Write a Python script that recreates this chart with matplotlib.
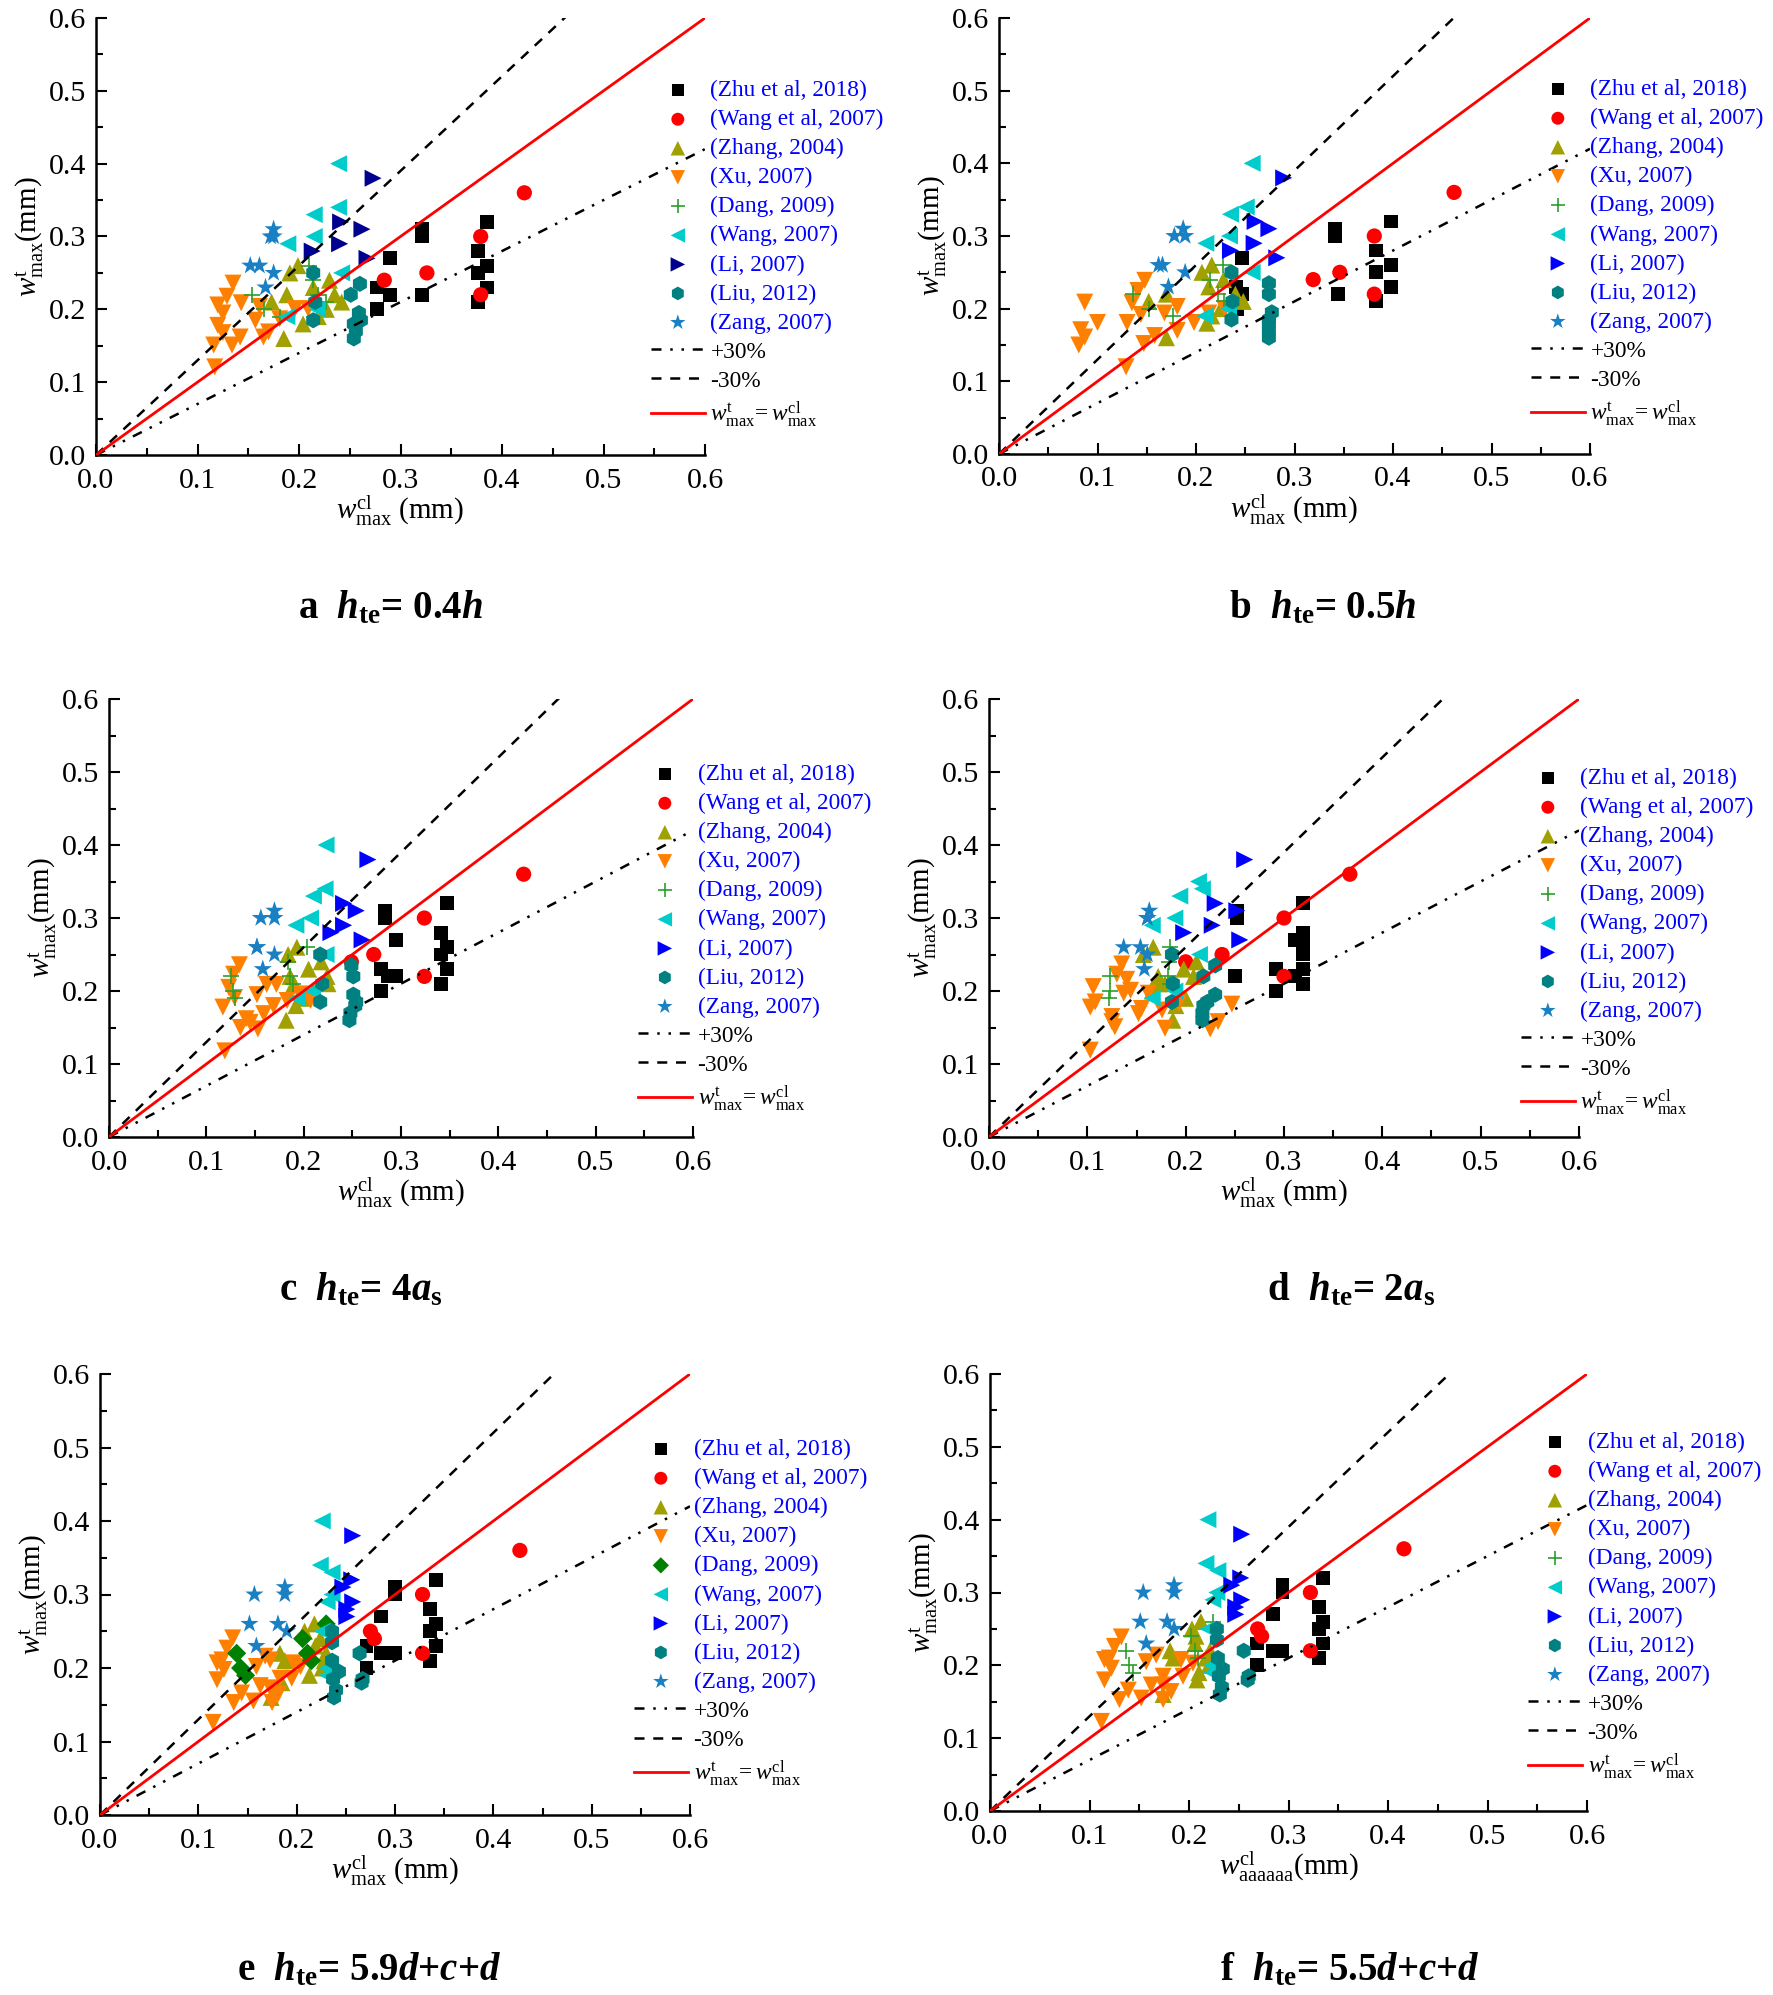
import matplotlib
matplotlib.use("Agg")
import matplotlib.pyplot as plt
from matplotlib.ticker import MultipleLocator, FormatStrFormatter

plt.rcParams["font.family"] = ["Liberation Serif", "DejaVu Serif"]
plt.rcParams["mathtext.fontset"] = "custom"
plt.rcParams["mathtext.rm"] = "Liberation Serif"
plt.rcParams["mathtext.it"] = "Liberation Serif:italic"
plt.rcParams["mathtext.bf"] = "Liberation Serif:bold"
plt.rcParams["mathtext.bfit"] = "Liberation Serif:italic:bold"

panels = ["a", "b", "c", "d", "e", "f"]

# ---- data (measured w_t on y, calculated w_cl on x) ----
zhu_y = [0.31, 0.30, 0.27, 0.23, 0.22, 0.22, 0.20, 0.32, 0.28, 0.26, 0.25, 0.23, 0.21]
zhu_x = {
    "a": [0.321, 0.321, 0.290, 0.277, 0.290, 0.321, 0.277, 0.385, 0.376, 0.385, 0.376, 0.385, 0.376],
    "b": [0.341, 0.341, 0.247, 0.241, 0.247, 0.344, 0.242, 0.398, 0.383, 0.398, 0.383, 0.398, 0.383],
    "c": [0.284, 0.284, 0.295, 0.279, 0.287, 0.295, 0.279, 0.347, 0.341, 0.347, 0.341, 0.347, 0.341],
    "d": [0.252, 0.252, 0.311, 0.292, 0.250, 0.311, 0.292, 0.319, 0.319, 0.319, 0.319, 0.319, 0.319],
    "e": [0.300, 0.300, 0.286, 0.271, 0.286, 0.300, 0.271, 0.342, 0.336, 0.342, 0.336, 0.342, 0.336],
    "f": [0.294, 0.294, 0.284, 0.268, 0.284, 0.294, 0.268, 0.335, 0.331, 0.335, 0.331, 0.335, 0.331],
}

wang_y = [0.24, 0.25, 0.30, 0.22, 0.36]
wang_x = {
    "a": [0.284, 0.326, 0.379, 0.379, 0.422],
    "b": [0.319, 0.346, 0.381, 0.381, 0.462],
    "c": [0.249, 0.272, 0.324, 0.324, 0.426],
    "d": [0.200, 0.237, 0.300, 0.300, 0.367],
    "e": [0.279, 0.275, 0.328, 0.328, 0.427],
    "f": [0.273, 0.269, 0.322, 0.322, 0.416],
}

zhang_y = [0.26, 0.25, 0.24, 0.23, 0.22, 0.22, 0.21, 0.21, 0.20, 0.19, 0.18, 0.16]
zhang_x = {
    "a": [0.199, 0.191, 0.230, 0.214, 0.188, 0.235, 0.173, 0.242, 0.227, 0.219, 0.204, 0.185],
    "b": [0.216, 0.206, 0.228, 0.213, 0.170, 0.240, 0.152, 0.248, 0.225, 0.216, 0.211, 0.170],
    "c": [0.193, 0.184, 0.218, 0.205, 0.186, 0.224, 0.190, 0.225, 0.210, 0.200, 0.192, 0.182],
    "d": [0.167, 0.157, 0.211, 0.198, 0.172, 0.208, 0.173, 0.179, 0.166, 0.200, 0.190, 0.187],
    "e": [0.218, 0.208, 0.224, 0.219, 0.183, 0.230, 0.188, 0.228, 0.226, 0.213, 0.185, 0.174],
    "f": [0.212, 0.203, 0.207, 0.206, 0.181, 0.221, 0.184, 0.217, 0.220, 0.210, 0.208, 0.174],
}

xu_x = {
    "a": [0.135, 0.129, 0.143, 0.120, 0.125, 0.161, 0.120, 0.125, 0.157, 0.142, 0.134, 0.116, 0.170, 0.196, 0.209, 0.117, 0.165, 0.181],
    "b": [0.087, 0.083, 0.100, 0.087, 0.081, 0.148, 0.141, 0.135, 0.130, 0.144, 0.147, 0.158, 0.168, 0.181, 0.181, 0.198, 0.213, 0.229, 0.129],
    "c": [0.134, 0.128, 0.123, 0.129, 0.117, 0.162, 0.172, 0.152, 0.169, 0.159, 0.141, 0.135, 0.153, 0.145, 0.183, 0.196, 0.119, 0.207],
    "d": [0.135, 0.130, 0.140, 0.106, 0.108, 0.103, 0.137, 0.144, 0.125, 0.125, 0.128, 0.152, 0.155, 0.176, 0.193, 0.179, 0.103, 0.247, 0.225, 0.233, 0.162],
    "e": [0.135, 0.129, 0.124, 0.119, 0.126, 0.119, 0.168, 0.173, 0.159, 0.197, 0.204, 0.183, 0.163, 0.173, 0.195, 0.144, 0.136, 0.156, 0.175, 0.181, 0.115],
    "f": [0.132, 0.125, 0.120, 0.115, 0.122, 0.115, 0.167, 0.157, 0.192, 0.204, 0.174, 0.162, 0.174, 0.194, 0.139, 0.130, 0.152, 0.174, 0.182, 0.112],
}
xu_y = {
    "a": [0.236, 0.218, 0.209, 0.206, 0.195, 0.204, 0.178, 0.168, 0.185, 0.162, 0.151, 0.151, 0.169, 0.201, 0.201, 0.121, 0.162, 0.187],
    "b": [0.209, 0.171, 0.181, 0.161, 0.150, 0.239, 0.225, 0.208, 0.181, 0.192, 0.152, 0.163, 0.194, 0.203, 0.170, 0.181, 0.194, 0.200, 0.120],
    "c": [0.236, 0.223, 0.205, 0.191, 0.178, 0.209, 0.209, 0.195, 0.180, 0.169, 0.162, 0.150, 0.148, 0.157, 0.187, 0.196, 0.118, 0.187],
    "d": [0.237, 0.223, 0.216, 0.206, 0.185, 0.178, 0.197, 0.201, 0.165, 0.158, 0.151, 0.169, 0.176, 0.174, 0.183, 0.149, 0.119, 0.182, 0.148, 0.158, 0.197],
    "e": [0.241, 0.227, 0.211, 0.207, 0.198, 0.184, 0.216, 0.211, 0.202, 0.207, 0.202, 0.186, 0.176, 0.173, 0.186, 0.166, 0.153, 0.155, 0.153, 0.164, 0.126],
    "f": [0.239, 0.226, 0.210, 0.208, 0.196, 0.180, 0.214, 0.205, 0.208, 0.203, 0.185, 0.173, 0.173, 0.185, 0.166, 0.153, 0.155, 0.153, 0.164, 0.123],
}

dang_y = [0.22, 0.20, 0.19, 0.26, 0.24, 0.22, 0.21]
dang_x = {
    "a": [0.154, 0.166, 0.181, 0.210, 0.214, 0.219, 0.227],
    "b": [0.136, 0.152, 0.177, 0.227, 0.214, 0.222, 0.228],
    "c": [0.125, 0.127, 0.129, 0.203, 0.184, 0.186, 0.189],
    "d": [0.123, 0.123, 0.122, 0.184, 0.183, 0.182, 0.184],
    "e": [0.139, 0.143, 0.148, 0.230, 0.206, 0.211, 0.215],
    "f": [0.137, 0.140, 0.144, 0.224, 0.202, 0.206, 0.209],
}

wang07_y = [0.40, 0.33, 0.34, 0.30, 0.29, 0.25, 0.20, 0.19]
wang07_y_d = [0.35, 0.34, 0.33, 0.30, 0.29, 0.25, 0.20, 0.19]
wang07_x = {
    "a": [0.239, 0.215, 0.239, 0.215, 0.189, 0.242, 0.218, 0.188],
    "b": [0.257, 0.235, 0.251, 0.234, 0.210, 0.257, 0.233, 0.209],
    "c": [0.223, 0.210, 0.222, 0.207, 0.192, 0.223, 0.209, 0.193],
    "d": [0.213, 0.217, 0.194, 0.189, 0.166, 0.214, 0.189, 0.166],
    "e": [0.226, 0.236, 0.224, 0.236, 0.231, 0.226, 0.231, 0.231],
    "f": [0.219, 0.229, 0.217, 0.228, 0.224, 0.219, 0.223, 0.223],
}

li_y = [0.38, 0.32, 0.31, 0.28, 0.29, 0.27]
li_x = {
    "a": [0.273, 0.241, 0.262, 0.213, 0.240, 0.267],
    "b": [0.289, 0.260, 0.274, 0.235, 0.259, 0.282],
    "c": [0.266, 0.241, 0.254, 0.228, 0.241, 0.260],
    "d": [0.260, 0.230, 0.252, 0.198, 0.227, 0.255],
    "e": [0.257, 0.256, 0.247, 0.251, 0.257, 0.251],
    "f": [0.253, 0.252, 0.243, 0.247, 0.253, 0.247],
}

liu_y = [0.25, 0.235, 0.22, 0.21, 0.185, 0.195, 0.185, 0.18, 0.17, 0.16]
liu_x = {
    "a": [0.214, 0.260, 0.251, 0.216, 0.214, 0.259, 0.261, 0.254, 0.256, 0.254],
    "b": [0.236, 0.274, 0.274, 0.237, 0.236, 0.277, 0.274, 0.274, 0.274, 0.274],
    "c": [0.217, 0.249, 0.251, 0.219, 0.217, 0.251, 0.254, 0.253, 0.248, 0.247],
    "d": [0.186, 0.230, 0.218, 0.187, 0.186, 0.230, 0.222, 0.218, 0.217, 0.217],
    "e": [0.236, 0.236, 0.264, 0.236, 0.237, 0.243, 0.267, 0.266, 0.240, 0.238],
    "f": [0.228, 0.228, 0.255, 0.229, 0.230, 0.234, 0.260, 0.259, 0.233, 0.231],
}

zang_y = [0.31, 0.30, 0.30, 0.26, 0.26, 0.25, 0.23]
zang_x = {
    "a": [0.175, 0.175, 0.172, 0.152, 0.161, 0.175, 0.167],
    "b": [0.187, 0.178, 0.189, 0.162, 0.166, 0.189, 0.172],
    "c": [0.170, 0.156, 0.170, 0.152, 0.152, 0.170, 0.158],
    "d": [0.163, 0.161, 0.161, 0.137, 0.154, 0.161, 0.158],
    "e": [0.188, 0.157, 0.188, 0.152, 0.181, 0.190, 0.159],
    "f": [0.185, 0.154, 0.185, 0.151, 0.178, 0.185, 0.157],
}

# reference lines: y = k * x
ref_x = [0.0, 0.6]
k_plus30 = 0.7
k_minus30 = 1.3

# captions: plain parts bold, symbols bold italic
captions = {
    "a": r"a  $\mathbfit{h}_{\mathbf{te}}$= 0.4$\mathbfit{h}$",
    "b": r"b  $\mathbfit{h}_{\mathbf{te}}$= 0.5$\mathbfit{h}$",
    "c": r"c  $\mathbfit{h}_{\mathbf{te}}$= 4$\mathbfit{a}_{\mathbf{s}}$",
    "d": r"d  $\mathbfit{h}_{\mathbf{te}}$= 2$\mathbfit{a}_{\mathbf{s}}$",
    "e": r"e  $\mathbfit{h}_{\mathbf{te}}$= 5.9$\mathbfit{d}$+$\mathbfit{c}$+$\mathbfit{d}$",
    "f": r"f  $\mathbfit{h}_{\mathbf{te}}$= 5.5$\mathbfit{d}$+$\mathbfit{c}$+$\mathbfit{d}$",
}

# ---- layout (pixels in the 1773x1995 figure) ----
W, H = 1773, 1995
axes_px = {  # left, right, top, bottom
    "a": (96, 705, 18, 455),
    "b": (999, 1590, 18, 454),
    "c": (109, 693, 699, 1137),
    "d": (989, 1579, 699, 1137),
    "e": (100, 690, 1374, 1815),
    "f": (990, 1587, 1374, 1811),
}
legend_px = {  # handle-left x, top y
    "a": (651, 80), "b": (1531, 79), "c": (638, 764),
    "d": (1521, 768), "e": (634, 1439), "f": (1528, 1432),
}
caption_px = {
    "a": (391, 608), "b": (1323, 608), "c": (361, 1290),
    "d": (1351, 1290), "e": (369, 1970), "f": (1350, 1970),
}

fig = plt.figure(figsize=(W / 100, H / 100), dpi=100)

for p in panels:
    l, r, t, b = axes_px[p]
    ax = fig.add_axes([l / W, 1 - b / H, (r - l) / W, (b - t) / H])

    series = [
        ("(Zhu et al, 2018)", "s", "black", zhu_x[p], zhu_y, 100),
        ("(Wang et al, 2007)", "o", "#ff0000", wang_x[p], wang_y, 120),
        ("(Zhang, 2004)", "^", "#a0a000", zhang_x[p], zhang_y, 150),
        ("(Xu, 2007)", "v", "#ff8000", xu_x[p], xu_y[p], 150),
        ("(Dang, 2009)", "D" if p == "e" else "+",
         "#008000" if p == "e" else "#2ca02c", dang_x[p], dang_y, 95 if p == "e" else 130),
        ("(Wang, 2007)", "<", "#00cccc", wang07_x[p], wang07_y_d if p == "d" else wang07_y, 150),
        ("(Li, 2007)", ">", "#000090" if p == "a" else "#0000ff", li_x[p], li_y, 150),
        ("(Liu, 2012)", "h", "#008080", liu_x[p], liu_y, 135),
        ("(Zang, 2007)", "*", "#1a80c4", zang_x[p], zang_y, 190),
    ]
    for label, marker, color, xs, ys, size in series:
        if marker == "+":
            ax.scatter(xs, ys, marker=marker, s=size, c=color, linewidths=1.2,
                       label=label, zorder=3)
        else:
            ax.scatter(xs, ys, marker=marker, s=size, c=color, edgecolors="none",
                       label=label, zorder=3)

    ax.plot(ref_x, [k_plus30 * v for v in ref_x], color="black", lw=1.8,
            linestyle=(0, (4, 3.5, 1, 3.5, 1, 3.5)), label="+30%", zorder=4)
    ax.plot(ref_x, [k_minus30 * v for v in ref_x], color="black", lw=1.8,
            linestyle=(0, (4, 3.5)), label="-30%", zorder=4)
    ax.plot(ref_x, ref_x, color="#ff0000", lw=2,
            label=r"$w^{\mathrm{t}}_{\mathrm{max}}\!= w^{\mathrm{cl}}_{\mathrm{max}}$", zorder=4)

    ax.set_xlim(0, 0.6)
    ax.set_ylim(0, 0.6)
    ax.spines["top"].set_visible(False)
    ax.spines["right"].set_visible(False)
    for s in ("left", "bottom"):
        ax.spines[s].set_linewidth(1.8)
    ax.xaxis.set_major_locator(MultipleLocator(0.1))
    ax.xaxis.set_minor_locator(MultipleLocator(0.05))
    ax.yaxis.set_major_locator(MultipleLocator(0.1))
    ax.yaxis.set_minor_locator(MultipleLocator(0.05))
    ax.xaxis.set_major_formatter(FormatStrFormatter("%.1f"))
    ax.yaxis.set_major_formatter(FormatStrFormatter("%.1f"))
    ax.tick_params(which="both", direction="in", width=1.5, labelsize=21.5)
    ax.tick_params(axis="x", which="both", pad=9)
    ax.tick_params(axis="y", which="both", pad=7)
    ax.tick_params(which="major", length=8)
    ax.tick_params(which="minor", length=5)

    if p == "f":
        ax.set_xlabel(r"$w^{\mathrm{cl}}_{\mathrm{aaaaaa}}$(mm)", fontsize=21, labelpad=0)
    else:
        ax.set_xlabel(r"$w^{\mathrm{cl}}_{\mathrm{max}}$ (mm)", fontsize=21, labelpad=0)
    ax.set_ylabel(r"$w^{\mathrm{t}}_{\mathrm{max}}$(mm)", fontsize=21, labelpad=2)

    lx, ly = legend_px[p]
    leg = ax.legend(loc="upper left", bbox_to_anchor=(lx / W, 1 - ly / H),
                    bbox_transform=fig.transFigure, frameon=False, fontsize=16.8,
                    handlelength=2.3, handletextpad=0.25, labelspacing=0.33,
                    borderpad=0, borderaxespad=0, markerscale=0.85)
    for i, txt in enumerate(leg.get_texts()):
        txt.set_color("#0000ff" if i < 9 else "black")

    cx, cy = caption_px[p]
    fig.text(cx / W, 1 - cy / H, captions[p], ha="center", va="center",
             fontsize=28, fontweight="bold")

fig.savefig("out.png", dpi=100)
